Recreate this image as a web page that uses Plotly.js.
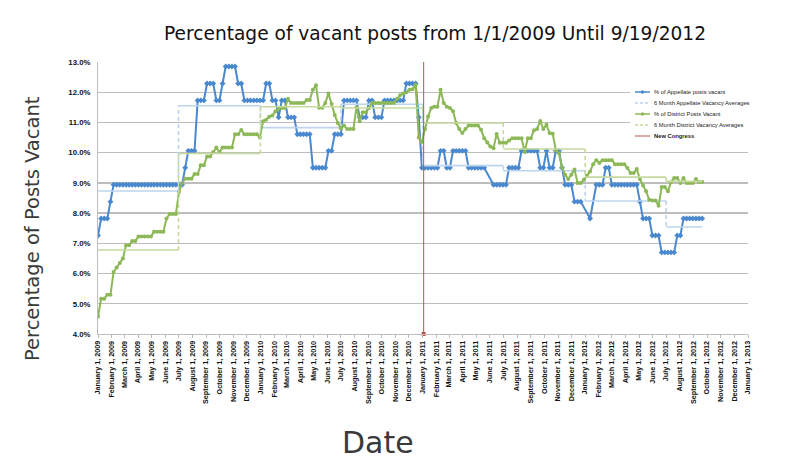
<!DOCTYPE html>
<html>
<head>
<meta charset="utf-8">
<script src="https://cdn.plot.ly/plotly-3.0.1.min.js"></script>
<style>html,body{margin:0;padding:0;background:#fff;}#chart{width:800px;height:462px;}</style>
</head>
<body>
<div id="chart"></div>
<script>
// ---- data (weekly observations starting 1 Jan 2009) ----
const startDate = '2009-01-01';
const stepDays = 7;

const appellateVacant = [
 7.26, 7.82, 7.82, 7.82, 8.38, 8.94, 8.94, 8.94, 8.94, 8.94,
 8.94, 8.94, 8.94, 8.94, 8.94, 8.94, 8.94, 8.94, 8.94, 8.94,
 8.94, 8.94, 8.94, 8.94, 8.94, 8.94, 8.94, 8.94, 9.50, 10.06,
 10.06, 10.06, 11.73, 11.73, 11.73, 12.29, 12.29, 12.29, 11.73, 11.73,
 12.29, 12.85, 12.85, 12.85, 12.85, 12.29, 12.29, 11.73, 11.73, 11.73,
 11.73, 11.73, 11.73, 11.73, 12.29, 12.29, 11.73, 11.73, 11.17, 11.73,
 11.73, 11.17, 11.17, 11.17, 10.61, 10.61, 10.61, 10.61, 10.61, 9.50,
 9.50, 9.50, 9.50, 9.50, 10.06, 10.06, 10.61, 10.61, 10.61, 11.73,
 11.73, 11.73, 11.73, 11.73, 11.17, 11.17, 11.17, 11.73, 11.73, 11.17,
 11.17, 11.17, 11.73, 11.73, 11.73, 11.73, 11.73, 11.73, 11.73, 12.29,
 12.29, 12.29, 12.29, 11.17, 9.50, 9.50, 9.50, 9.50, 9.50, 9.50,
 10.06, 10.06, 9.50, 9.50, 10.06, 10.06, 10.06, 10.06, 10.06, 9.50,
 9.50, 9.50, 9.50, 9.50, 9.50, null, null, 8.94, 8.94, 8.94,
 8.94, 8.94, 9.50, 9.50, 9.50, 9.50, 10.06, 10.06, 10.06, 10.06,
 10.06, 10.06, 9.50, 9.50, 10.06, 9.50, 9.50, 10.06, 10.06, 9.50,
 8.94, 8.94, 8.94, 8.38, 8.38, 8.38, null, null, 7.82, null,
 8.94, 8.94, 8.94, 9.50, 9.50, 8.94, 8.94, 8.94, 8.94, 8.94,
 8.94, 8.94, 8.94, 8.94, 8.38, 7.82, 7.82, 7.82, 7.26, 7.26,
 7.26, 6.70, 6.70, 6.70, 6.70, 6.70, 7.26, 7.26, 7.82, 7.82,
 7.82, 7.82, 7.82, 7.82, 7.82
];

const districtVacant = [
 4.58, 5.17, 5.17, 5.30, 5.30, 6.05, 6.20, 6.35, 6.50, 6.94,
 6.94, 7.08, 7.08, 7.23, 7.23, 7.23, 7.23, 7.23, 7.38, 7.38,
 7.38, 7.38, 7.82, 7.97, 7.97, 7.97, 8.70, 9.00, 9.14, 9.14,
 9.14, 9.29, 9.29, 9.58, 9.58, 9.87, 9.87, 10.02, 10.17, 10.02,
 10.17, 10.17, 10.17, 10.17, 10.61, 10.61, 10.75, 10.61, 10.61, 10.61,
 10.61, 10.61, 10.50, 11.04, 11.09, 11.19, 11.23, 11.37, 11.45, 11.48,
 11.48, 11.78, 11.64, 11.64, 11.64, 11.64, 11.64, 11.74, 11.74, 12.08,
 12.23, 11.49, 11.49, 11.64, 11.96, 11.62, 11.25, 10.98, 10.80, 10.90,
 10.78, 10.78, 10.78, 11.50, 11.04, 11.34, 11.34, 11.48, 11.64, 11.64,
 11.64, 11.64, 11.64, 11.64, 11.64, 11.64, 11.78, 11.90, 11.96, 12.00,
 12.08, 12.10, 12.25, 10.50, 10.35, 10.78, 11.20, 11.48, 11.52, 11.52,
 12.08, 11.64, 11.52, 11.48, 11.37, 10.98, 10.78, 10.65, 10.78, 10.90,
 10.90, 10.90, 10.90, 10.76, 10.48, 10.34, 10.20, 10.15, 10.62, 10.33,
 10.33, 10.33, 10.40, 10.48, 10.48, 10.48, 10.48, 10.02, 10.48, 10.48,
 10.74, 10.78, 11.05, 10.78, 10.92, 10.65, 10.63, 10.08, 9.98, 9.50,
 9.27, 9.13, 9.27, 9.44, 9.00, 9.00, 9.10, 9.24, 9.38, 9.62,
 9.75, 9.66, 9.75, 9.75, 9.75, 9.75, 9.62, 9.62, 9.62, 9.62,
 9.49, 9.33, 9.33, 9.46, 9.13, 8.91, 8.72, 8.44, 8.42, 8.42,
 8.24, 8.86, 8.86, 8.72, 9.02, 9.16, 9.16, 9.00, 9.16, 9.00,
 9.00, 9.00, 9.13, 9.03, 9.03
];

// six-month averages
const periodStarts = ['2009-01-01','2009-07-01','2010-01-01','2010-07-01','2011-01-01','2011-07-01','2012-01-01','2012-07-01'];
const appellateAvg = [8.73, 11.55, 10.83, 11.60, 9.57, 9.40, 8.40, 7.54];
const districtAvg  = [6.78, 9.97, 11.52, 11.48, 10.98, 10.12, 9.19, 9.05];

const newCongressDate = '2011-01-03';

const seriesNames = ['% of Appellate posts vacant', '6 Month Appellate Vacancy Averages',
                     '% of District Posts Vacant', '6 Month District Vacancy Averages', 'New Congress'];
const titleText = 'Percentage of vacant posts from 1/1/2009 Until 9/19/2012';
const yTitle = 'Percentage of Posts Vacant';
const xTitle = 'Date';
const yTicks = [4,5,6,7,8,9,10,11,12,13];

// ---- build ----
function isoDay(base, days){
  const d = new Date(Date.parse(base + 'T00:00:00Z') + days*86400000);
  return d.toISOString().slice(0,10);
}
const dates = appellateVacant.map((_, i) => isoDay(startDate, i*stepDays));
const lastDate = dates[dates.length-1];

function stepTraces(vals, color, name){
  const hx=[], hy=[], vx=[], vy=[];
  for(let k=0;k<vals.length;k++){
    const s = periodStarts[k];
    const e = k+1<periodStarts.length ? periodStarts[k+1] : lastDate;
    hx.push(s, e, null); hy.push(vals[k], vals[k], null);
    if(k+1<vals.length){ vx.push(e, e, null); vy.push(vals[k], vals[k+1], null); }
  }
  return [
    {x:hx, y:hy, type:'scatter', mode:'lines', name:name, showlegend:false, hoverinfo:'skip',
     line:{color:color, width:1.6}},
    {x:vx, y:vy, type:'scatter', mode:'lines', name:name, showlegend:false, hoverinfo:'skip',
     line:{color:color, width:1.6, dash:'4px,3px'}}
  ];
}

const blue = '#4a89cf', lightBlue = '#bcd4ec', green = '#8cb857', lightGreen = '#c6da9f', red = '#c0504d';

const traces = [
  {x:dates, y:appellateVacant, type:'scatter', mode:'lines+markers', name:seriesNames[0], connectgaps:true,
   showlegend:false, line:{color:blue, width:2}, marker:{symbol:'diamond', size:4.5, color:blue}},
  ...stepTraces(appellateAvg, lightBlue, seriesNames[1]),
  {x:dates, y:districtVacant, type:'scatter', mode:'lines+markers', name:seriesNames[2], connectgaps:true,
   showlegend:false, line:{color:green, width:2}, marker:{symbol:'circle', size:4, color:green}},
  ...stepTraces(districtAvg, lightGreen, seriesNames[3]),
  {x:[newCongressDate, newCongressDate], y:[yTicks[0], yTicks[yTicks.length-1]], type:'scatter', mode:'lines',
   name:seriesNames[4], showlegend:false, line:{color:red, width:1}},
  {x:[newCongressDate], y:[yTicks[0]], type:'scatter', mode:'markers', name:seriesNames[4], showlegend:false,
   cliponaxis:false, marker:{symbol:'square', size:4, color:red}}
];

// pixel helpers for layout decorations
const L=98, R=748, T=62, B=334;
const PX = x => (x-L)/(R-L);
const PY = y => (B-y)/(B-T);

const shapes = [
  {type:'rect', xref:'paper', yref:'paper', x0:PX(630), x1:PX(764), y0:PY(146), y1:PY(85),
   fillcolor:'#ffffff', line:{width:0}, layer:'above'}
];
const annotations = [];
const legendStyle = [
  {color:blue, dash:'solid', marker:true},
  {color:lightBlue, dash:'3px,2px', marker:false},
  {color:green, dash:'solid', marker:true},
  {color:lightGreen, dash:'3px,2px', marker:false},
  {color:red, dash:'solid', marker:false, width:1}
];
legendStyle.forEach((st, k) => {
  const y = 92 + 11*k;
  shapes.push({type:'line', xref:'paper', yref:'paper', x0:PX(635), x1:PX(650), y0:PY(y), y1:PY(y),
    line:{color:st.color, width:st.width||1.5, dash:st.dash}, layer:'above'});
  if(st.marker){
    shapes.push({type:'circle', xref:'paper', yref:'paper', x0:PX(641), x1:PX(644), y0:PY(y+1.5), y1:PY(y-1.5),
      fillcolor:st.color, line:{color:st.color, width:0.5}, layer:'above'});
  }
  annotations.push({xref:'paper', yref:'paper', x:PX(652), y:PY(y), xanchor:'left', yanchor:'middle',
    showarrow:false, text: k===4 ? '<b>'+seriesNames[k]+'</b>' : seriesNames[k],
    font:{family:'Liberation Sans, Arial, sans-serif', size:5.8, color:'#222'}});
});
annotations.push({xref:'paper', yref:'paper', x:PX(32), y:PY(229), textangle:-90, showarrow:false,
  xanchor:'center', yanchor:'middle', text:yTitle,
  font:{family:'DejaVu Sans, sans-serif', size:19.5, color:'#3a3a3a'}});
annotations.push({xref:'paper', yref:'paper', x:PX(378), y:PY(442), showarrow:false,
  xanchor:'center', yanchor:'middle', text:xTitle,
  font:{family:'DejaVu Sans, sans-serif', size:30, color:'#3a3a3a'}});

const layout = {
  width:800, height:462,
  margin:{l:L, r:800-R, t:T, b:462-B, pad:0},
  paper_bgcolor:'#ffffff', plot_bgcolor:'#ffffff',
  showlegend:false,
  title:{text:titleText, xref:'container', yref:'container', x:435/800, xanchor:'center',
         y:1-33/462, yanchor:'middle',
         font:{family:'DejaVu Sans, sans-serif', size:18.6, color:'#111'}},
  xaxis:{type:'date', range:['2009-01-01','2013-01-01'], tickmode:'linear', tick0:'2009-01-01', dtick:'M1',
         tickformat:'%B %-d, %Y', tickangle:-90, showgrid:false, zeroline:false,
         showline:true, linecolor:'#bdbdbd', linewidth:1,
         ticks:'outside', ticklen:3, tickcolor:'#bdbdbd',
         tickfont:{family:'Liberation Sans, Arial, sans-serif', size:7.2, color:'#111', weight:'bold'}},
  yaxis:{range:[yTicks[0], yTicks[yTicks.length-1]], tickmode:'array', tickvals:yTicks,
         ticktext:yTicks.map(v => v.toFixed(1)+'%'),
         showgrid:true, gridcolor:'#bdbdbd', gridwidth:1.3, zeroline:false,
         showline:true, linecolor:'#bdbdbd', linewidth:1, ticks:'', ticklabelstandoff:5,
         tickfont:{family:'Liberation Sans, Arial, sans-serif', size:7.8, color:'#111', weight:'bold'}},
  shapes:shapes,
  annotations:annotations
};

Plotly.newPlot('chart', traces, layout, {staticPlot:true, displayModeBar:false});
</script>
</body>
</html>
